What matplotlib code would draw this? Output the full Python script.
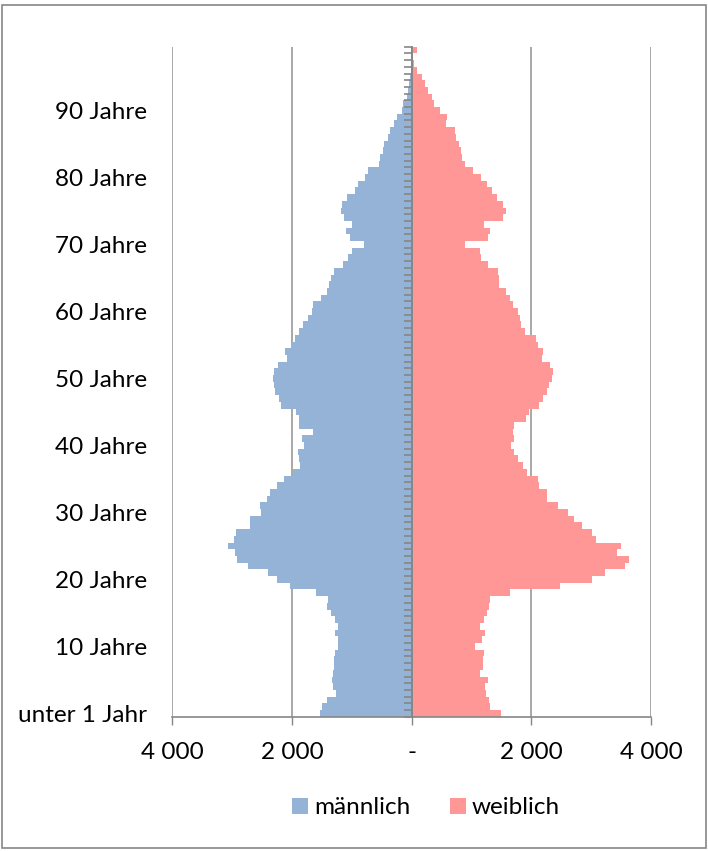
import matplotlib
matplotlib.use("Agg")
import matplotlib.pyplot as plt
from matplotlib.patches import Patch, Rectangle
import numpy as np

plt.rcParams['font.family'] = ['Lato', 'DejaVu Sans']

# population by age (0 .. 99)
maennlich = [1525, 1500, 1420, 1260, 1320, 1335, 1310, 1305, 1290, 1280,
             1235, 1225, 1275, 1225, 1275, 1355, 1415, 1395, 1600, 2030,
             2245, 2400, 2735, 2915, 2945, 3070, 2965, 2930, 2695, 2695,
             2520, 2530, 2420, 2360, 2255, 2130, 1975, 1865, 1875, 1895,
             1805, 1840, 1655, 1890, 1890, 1930, 2185, 2220, 2290, 2305,
             2320, 2305, 2235, 2085, 2110, 2020, 1950, 1890, 1810, 1740,
             1670, 1645, 1520, 1420, 1375, 1340, 1300, 1150, 1070, 990,
             795, 1025, 1090, 990, 1130, 1180, 1170, 1085, 945, 900,
             775, 725, 545, 530, 485, 455, 390, 360, 295, 240,
             167, 140, 72, 55, 45, 28, 15, 10, 8, 5]
weiblich = [1495, 1310, 1285, 1240, 1230, 1280, 1150, 1185, 1185, 1205,
            1060, 1170, 1225, 1150, 1215, 1260, 1285, 1310, 1645, 2480,
            3010, 3235, 3565, 3625, 3430, 3505, 3075, 3010, 2840, 2710,
            2610, 2450, 2260, 2255, 2120, 2105, 1925, 1855, 1770, 1715,
            1660, 1715, 1700, 1710, 1910, 1965, 2120, 2200, 2260, 2300,
            2340, 2355, 2310, 2180, 2190, 2110, 2080, 1900, 1825, 1805,
            1780, 1690, 1645, 1575, 1465, 1455, 1450, 1270, 1160, 1135,
            895, 1280, 1315, 1205, 1520, 1575, 1520, 1430, 1340, 1255,
            1160, 1030, 885, 840, 825, 785, 740, 730, 575, 585,
            475, 375, 345, 270, 225, 180, 84, 40, 16, 84]

x_ticks = [-4000, -2000, 0, 2000, 4000]
x_labels = ["4 000", "2 000", "-", "2 000", "4 000"]
y_ticks = [0, 10, 20, 30, 40, 50, 60, 70, 80, 90]
y_labels = ["unter 1 Jahr", "10 Jahre", "20 Jahre", "30 Jahre", "40 Jahre",
            "50 Jahre", "60 Jahre", "70 Jahre", "80 Jahre", "90 Jahre"]

blue = "#95B3D7"
pink = "#FF9797"
gray = "#868686"
fs = 17.5

ages = np.arange(len(maennlich))

fig = plt.figure(figsize=(7.08, 8.51), dpi=100)
ax = fig.add_axes([0.2434, 0.1578, 0.6761, 0.7873])

ax.barh(ages, -np.array(maennlich), height=1.0, color=blue, linewidth=0)
ax.barh(ages, weiblich, height=1.0, color=pink, linewidth=0)

ax.set_xlim(-4000, 4000)
ax.set_ylim(-0.5, len(ages) - 0.5)
ax.set_xticks(x_ticks)
ax.set_xticklabels(x_labels, fontsize=fs)
ax.set_yticks(y_ticks)
ax.set_yticklabels(y_labels, fontsize=fs)
ax.tick_params(axis='y', length=0, pad=18)
ax.tick_params(axis='x', length=5.4, width=1, color=gray, pad=13)

for s in ['top', 'right', 'left']:
    ax.spines[s].set_visible(False)
ax.spines['bottom'].set_color(gray)
ax.spines['bottom'].set_linewidth(1.2)

ax.xaxis.grid(True, color='#9A9A9A', linewidth=1.2)
ax.set_axisbelow(True)

# vertical category axis at x = 0 with a tick at every category boundary
sec = ax.secondary_yaxis(0.5)
sec.set_alignment('left')
sec.set_yticks(np.arange(-0.5, len(ages), 1))
sec.tick_params(axis='y', direction='out', length=6, width=1.2, color=gray,
                labelleft=False, labelright=False)
sec.spines['left'].set_color(gray)
sec.spines['left'].set_linewidth(1.4)
sec.set_zorder(5)

handles = [Patch(facecolor=blue, label="männlich"),
           Patch(facecolor=pink, label="weiblich")]
fig.legend(handles=handles, loc='center', bbox_to_anchor=(426 / 708, 1 - 808 / 851),
           ncol=2, frameon=False, fontsize=fs, handlelength=0.64, handleheight=0.6,
           handletextpad=0.25, columnspacing=1.65)

fig.patches.append(Rectangle((1.5 / 708, 3 / 851), 704.5 / 708, 843 / 851,
                             transform=fig.transFigure, fill=False,
                             edgecolor=gray, linewidth=1.2))

fig.savefig("out.png", dpi=100)
